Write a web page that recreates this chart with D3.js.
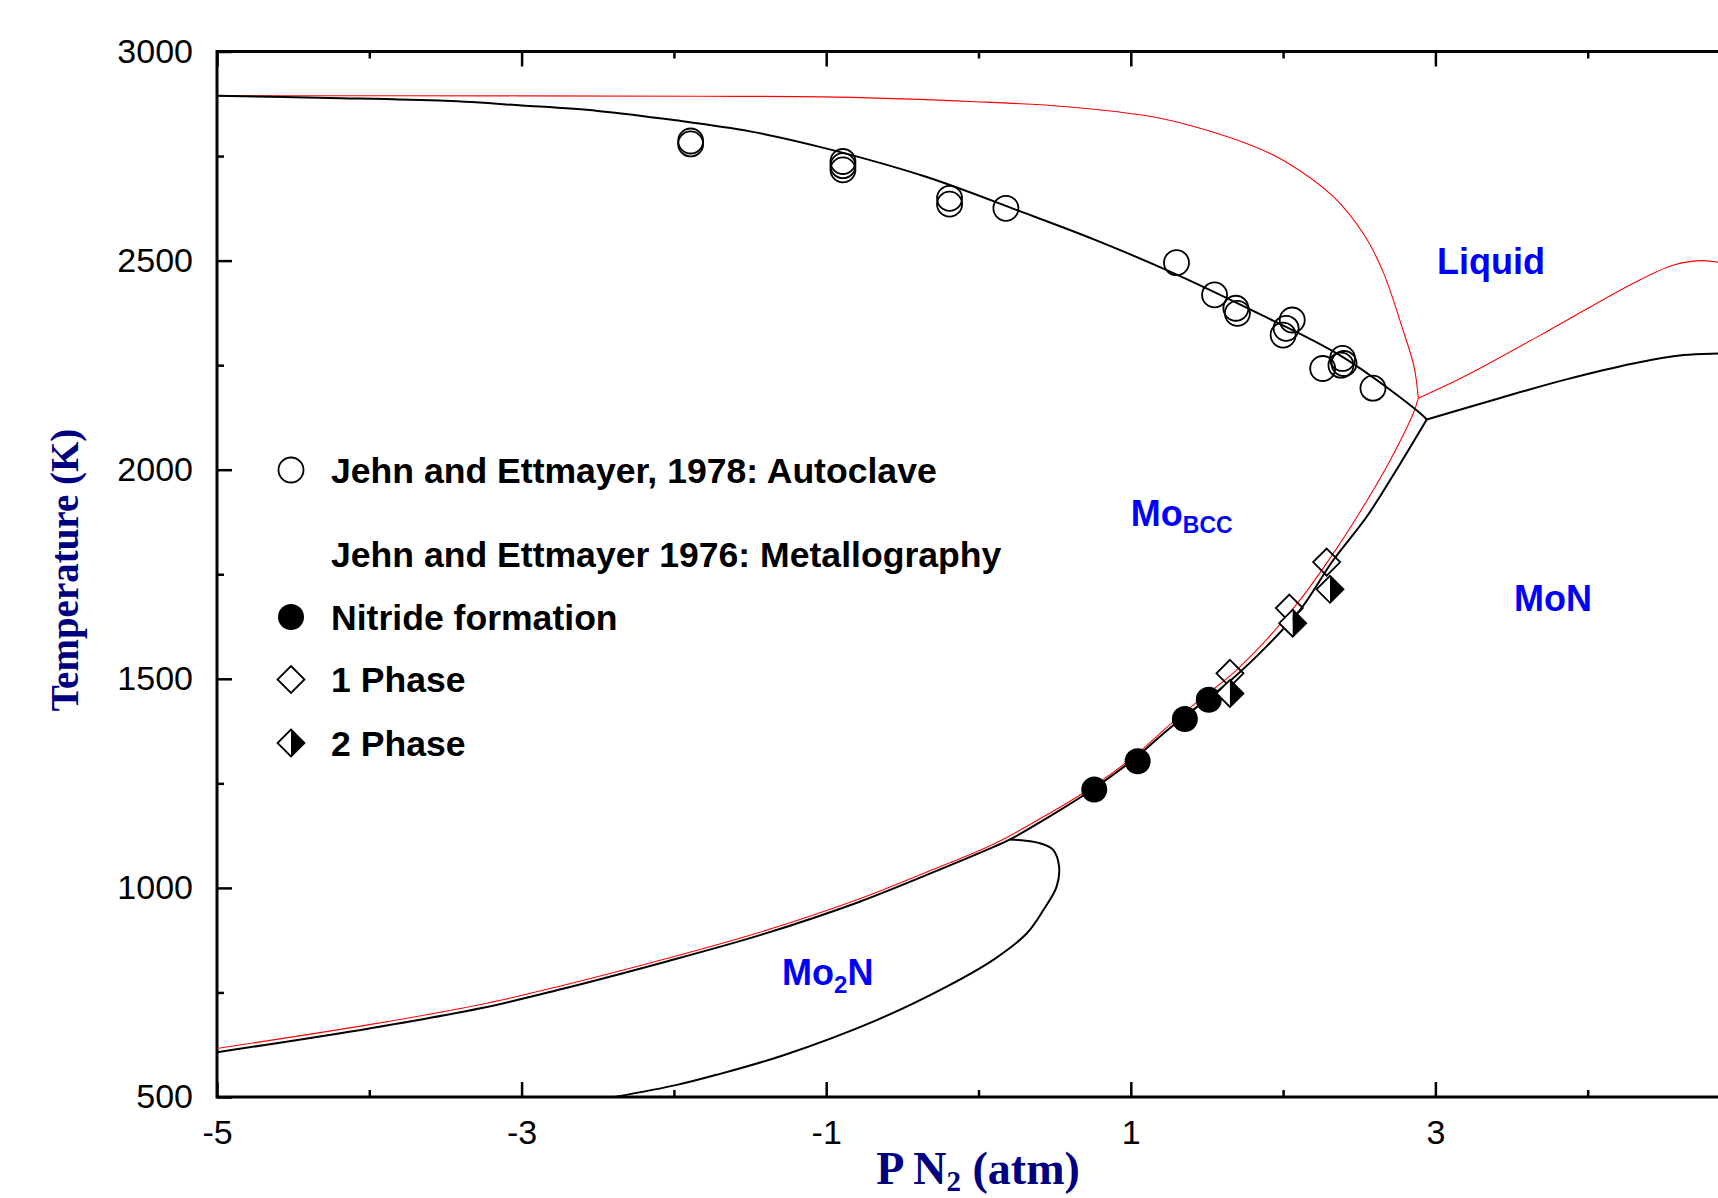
<!DOCTYPE html>
<html>
<head>
<meta charset="utf-8">
<script src="https://cdn.jsdelivr.net/npm/d3@7"></script>
<style>
  body { margin: 0; background: #fff; }
  svg { display: block; }
  .tick text { font-family: "Liberation Sans", Arial, sans-serif; font-size: 34px; fill: #000; }
  .tick line { stroke: #000; stroke-width: 2.5; }
</style>
</head>
<body>
<svg id="chart" width="1718" height="1198"></svg>
<script>
// x = log10 P(N2) in atm, y = temperature in K
const xMajorTicks = [-5, -3, -1, 1, 3, 5];
const xMinorTicks = [-4, -2, 0, 2, 4];
const yMajorTicks = [500, 1000, 1500, 2000, 2500, 3000];
const yMinorTicks = [750, 1250, 1750, 2250, 2750];

// calculated phase boundaries (black)
const bccLiquidBlack = [[-5, 2894], [-4.26, 2889], [-3.5, 2882], [-3, 2871], [-2.5, 2858], [-2, 2836],
  [-1.5, 2809], [-1.01, 2769], [-0.35, 2701], [0.28, 2617], [0.77, 2549], [1.28, 2470],
  [1.79, 2382], [2.39, 2270], [2.9, 2135], [2.943, 2120]];
const monLiquidBlack = [[2.943, 2120], [3.42, 2171], [3.86, 2216], [4.3, 2254], [4.63, 2274],
  [4.86, 2278], [5, 2279]];
const bccNitrideBlack = [[-5, 607], [-4.0, 664], [-3.27, 712], [-2.75, 757], [-2.09, 820],
  [-1.435, 887], [-0.78, 967], [-0.34, 1031], [0.1, 1098], [0.207, 1116], [0.535, 1186],
  [0.75, 1236], [1.02, 1308], [1.24, 1377], [1.45, 1437], [1.67, 1501], [1.89, 1577],
  [2.11, 1664], [2.33, 1784], [2.55, 1888], [2.77, 2015], [2.943, 2120]];
const mo2nLoopBlack = [[0.207, 1116], [0.40, 1107], [0.49, 1091], [0.529, 1051], [0.513, 1003],
  [0.426, 947], [0.316, 891], [0.097, 828], [-0.209, 764], [-0.668, 684], [-1.28, 600],
  [-1.72, 553], [-1.98, 529], [-2.39, 500]];

// second calculation (red)
const bccLiquidRed = [[-5, 2894], [-3, 2894], [-1.83, 2893], [-0.93, 2891], [-0.02, 2880],
  [0.58, 2868], [1.07, 2848], [1.34, 2828], [1.79, 2776], [2.0, 2740], [2.33, 2653],
  [2.54, 2557], [2.66, 2470], [2.78, 2342], [2.86, 2246], [2.888, 2171]];
const monLiquidRed = [[2.888, 2171], [3.14, 2214], [3.29, 2242], [3.75, 2334], [4.3, 2446],
  [4.56, 2489], [4.74, 2500], [4.86, 2496], [5, 2490]];
const bccNitrideRed = [[-5, 616], [-4.0, 673], [-3.27, 721], [-2.75, 765], [-2.09, 827],
  [-1.435, 894], [-0.78, 974], [-0.34, 1038], [0.1, 1105], [0.535, 1193], [0.75, 1242],
  [1.02, 1314], [1.24, 1385], [1.45, 1449], [1.67, 1513], [1.89, 1593], [2.11, 1688],
  [2.33, 1800], [2.5, 1896], [2.68, 2007], [2.855, 2135], [2.888, 2171]];

// experimental points
const autoclave = [[-1.89, 2779], [-1.89, 2786], [-0.89, 2737], [-0.89, 2727], [-0.89, 2717],
  [-0.19, 2649], [-0.19, 2635], [0.18, 2625], [1.30, 2495], [1.55, 2418], [1.69, 2386],
  [1.70, 2374], [2.06, 2358], [2.02, 2338], [2.0, 2322], [2.26, 2242], [2.39, 2266],
  [2.40, 2254], [2.38, 2250], [2.59, 2195]];
const nitrideFormation = [[0.76, 1235], [1.045, 1303], [1.355, 1404], [1.512, 1450]];
const onePhase = [[1.651, 1513], [2.041, 1669], [2.286, 1779]];
const twoPhase = [[1.651, 1465], [2.063, 1633], [2.308, 1714]];

const legendLabels = [
  "Jehn and Ettmayer, 1978: Autoclave",
  "Jehn and Ettmayer 1976: Metallography",
  "Nitride formation",
  "1 Phase",
  "2 Phase"
];

const svg = d3.select("#chart");

const xScale = d3.scaleLinear().domain([-5, 5]).range([217, 217 + 10 * 152.3]);
const yScale = d3.scaleLinear().domain([500, 3000]).range([1097, 51.5]);
const plotLeft = xScale(-5), plotRight = xScale(5), plotTop = yScale(3000), plotBottom = yScale(500);

// axes, ticks pointing inwards
function drawAxis(axis, transform, showLabels) {
  const g = svg.append("g").attr("transform", transform).call(axis);
  g.select(".domain").remove();
  if (!showLabels) g.selectAll("text").remove();
  return g;
}

// the last x label falls outside the page, as in the original
const xLabel = (d) => (xScale(d) > 1718 ? "" : String(d));

drawAxis(d3.axisBottom(xScale).tickValues(xMajorTicks).tickSize(-15).tickPadding(23)
  .tickFormat(xLabel), `translate(0,${plotBottom})`, true);
drawAxis(d3.axisBottom(xScale).tickValues(xMinorTicks).tickSize(-7), `translate(0,${plotBottom})`, false);
drawAxis(d3.axisTop(xScale).tickValues(xMajorTicks).tickSize(-15), `translate(0,${plotTop})`, false);
drawAxis(d3.axisTop(xScale).tickValues(xMinorTicks).tickSize(-7), `translate(0,${plotTop})`, false);
drawAxis(d3.axisLeft(yScale).tickValues(yMajorTicks).tickSize(-15).tickPadding(24)
  .tickFormat((d) => String(d)), `translate(${plotLeft},0)`, true);
drawAxis(d3.axisLeft(yScale).tickValues(yMinorTicks).tickSize(-7), `translate(${plotLeft},0)`, false);
drawAxis(d3.axisRight(yScale).tickValues(yMajorTicks).tickSize(-15), `translate(${plotRight},0)`, false);
drawAxis(d3.axisRight(yScale).tickValues(yMinorTicks).tickSize(-7), `translate(${plotRight},0)`, false);

svg.append("rect")
  .attr("x", plotLeft).attr("y", plotTop)
  .attr("width", plotRight - plotLeft).attr("height", plotBottom - plotTop)
  .attr("fill", "none").attr("stroke", "#000").attr("stroke-width", 3);

// curves
const line = d3.line()
  .x((d) => xScale(d[0]))
  .y((d) => yScale(d[1]))
  .curve(d3.curveCatmullRom.alpha(0.5));

const redCurves = [bccLiquidRed, monLiquidRed, bccNitrideRed];
const blackCurves = [bccLiquidBlack, monLiquidBlack, bccNitrideBlack, mo2nLoopBlack];

svg.append("g").selectAll("path").data(redCurves).join("path")
  .attr("d", line).attr("fill", "none").attr("stroke", "#ff0000").attr("stroke-width", 1.1);
svg.append("g").selectAll("path").data(blackCurves).join("path")
  .attr("d", line).attr("fill", "none").attr("stroke", "#000").attr("stroke-width", 2);

// markers
const diamond = (s) => `M0,${-s}L${s},0L0,${s}L${-s},0Z`;
const halfLeft = (s) => `M0,${-s}L${-s},0L0,${s}Z`;
const halfRight = (s) => `M0,${-s}L${s},0L0,${s}Z`;

function drawOpenCircle(g) {
  g.append("circle").attr("r", 12.5).attr("fill", "none").attr("stroke", "#000").attr("stroke-width", 1.8);
}
function drawFilledCircle(g) {
  g.append("circle").attr("r", 13).attr("fill", "#000");
}
function drawOpenDiamond(g) {
  g.append("path").attr("d", diamond(13.5)).attr("fill", "none").attr("stroke", "#000").attr("stroke-width", 1.8);
}
function drawHalfDiamond(g) {
  g.append("path").attr("d", halfLeft(13.5)).attr("fill", "#fff");
  g.append("path").attr("d", halfRight(13.5)).attr("fill", "#000");
  g.append("path").attr("d", diamond(13.5)).attr("fill", "none").attr("stroke", "#000").attr("stroke-width", 1.8);
}

function plotPoints(data, drawer) {
  svg.append("g").selectAll("g").data(data).join("g")
    .attr("transform", (d) => `translate(${xScale(d[0])},${yScale(d[1])})`)
    .each(function () { drawer(d3.select(this)); });
}
plotPoints(autoclave, drawOpenCircle);
plotPoints(nitrideFormation, drawFilledCircle);
plotPoints(onePhase, drawOpenDiamond);
plotPoints(twoPhase, drawHalfDiamond);

// legend
const legendRowsY = [470, 554, 617, 679.5, 743];
const legendDrawers = [drawOpenCircle, null, drawFilledCircle, drawOpenDiamond, drawHalfDiamond];
const legend = svg.append("g");
legendLabels.forEach((label, i) => {
  const row = legend.append("g").attr("transform", `translate(291,${legendRowsY[i]})`);
  if (legendDrawers[i]) legendDrawers[i](row);
  row.append("text")
    .attr("x", 40).attr("y", 12.5)
    .attr("font-family", "Liberation Sans, Arial, sans-serif")
    .attr("font-weight", "bold").attr("font-size", 35.6).attr("fill", "#000")
    .text(label);
});

// region labels
const regionFont = "Liberation Sans, Arial, sans-serif";
function regionLabel(x, t, main, sub, tail, subSize, subShift) {
  const txt = svg.append("text")
    .attr("x", xScale(x)).attr("y", yScale(t))
    .attr("font-family", regionFont).attr("font-weight", "bold")
    .attr("font-size", 36).attr("fill", "#0000ff");
  txt.append("tspan").text(main);
  if (sub) txt.append("tspan").attr("font-size", subSize).attr("dy", subShift).text(sub);
  if (tail) txt.append("tspan").attr("dy", -subShift).text(tail);
}
regionLabel(3.01, 2468, "Liquid");
regionLabel(1.0, 1866, "Mo", "BCC", null, 23, 7);
regionLabel(3.516, 1662, "MoN");
regionLabel(-1.29, 768, "Mo", "2", "N", 24, 8);

// axis titles
const xTitle = svg.append("text")
  .attr("x", 978).attr("y", 1184)
  .attr("text-anchor", "middle")
  .attr("font-family", "Liberation Serif, Times New Roman, serif")
  .attr("font-weight", "bold").attr("font-size", 46).attr("fill", "#000080");
xTitle.append("tspan").text("P N");
xTitle.append("tspan").attr("font-size", 29).attr("dy", 7).text("2");
xTitle.append("tspan").attr("dy", -7).text(" (atm)");

svg.append("text")
  .attr("transform", "translate(78,570) rotate(-90)")
  .attr("text-anchor", "middle")
  .attr("font-family", "Liberation Serif, Times New Roman, serif")
  .attr("font-weight", "bold").attr("font-size", 39).attr("fill", "#000080")
  .text("Temperature (K)");
</script>
</body>
</html>
